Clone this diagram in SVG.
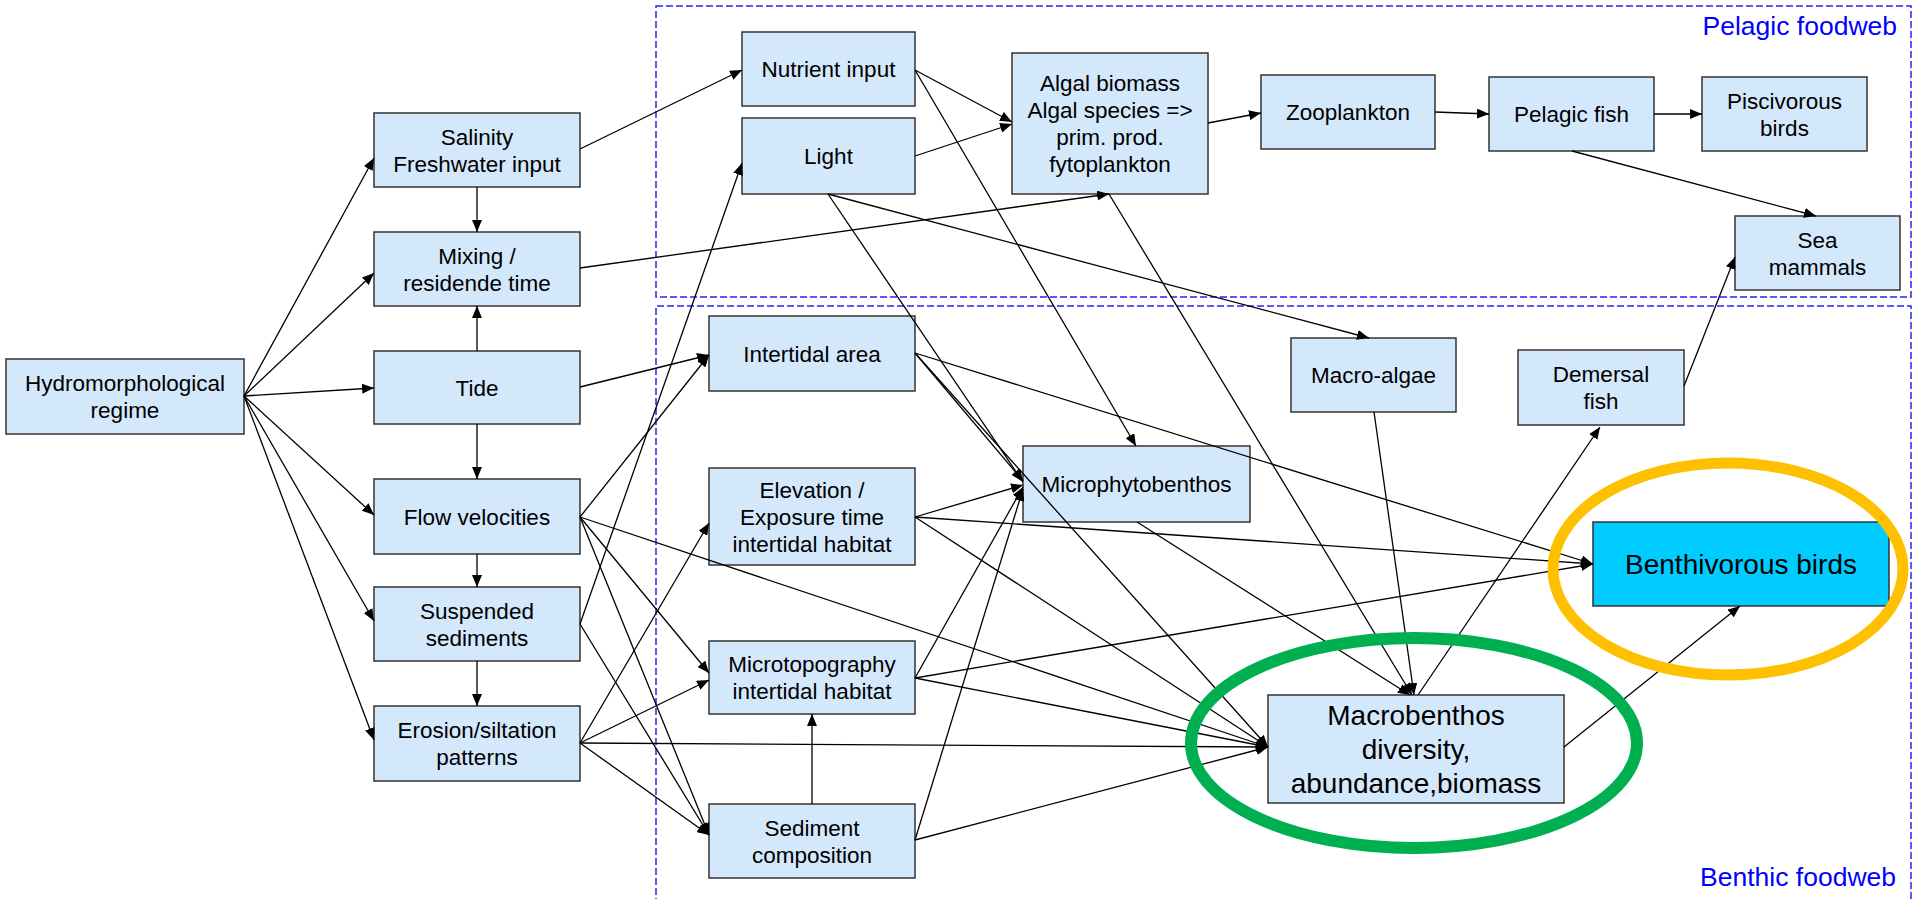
<svg xmlns="http://www.w3.org/2000/svg" width="1915" height="899" viewBox="0 0 1915 899">
<style>
.n{fill:#D4E8FC;stroke:#333;stroke-width:1.5}
.nb{fill:#00CCFF;stroke:#333;stroke-width:1.5}
.t{font-family:"Liberation Sans",Arial,sans-serif;font-size:22.5px;text-anchor:middle;fill:#000}
.tl{font-family:"Liberation Sans",Arial,sans-serif;font-size:28px;text-anchor:middle;fill:#000}
.lbl{font-family:"Liberation Sans",Arial,sans-serif;font-size:26.5px;text-anchor:end;fill:#0000FF}
.dash{fill:none;stroke:#2626F0;stroke-width:1.5;stroke-dasharray:7 3}
.c line{stroke:#000;stroke-width:1.3;marker-end:url(#ah)}
</style>
<defs>
<marker id="ah" markerUnits="userSpaceOnUse" markerWidth="12" markerHeight="10" refX="12" refY="5" orient="auto">
<path d="M0,0 L12,5 L0,10 z" fill="#000"/>
</marker>
</defs>
<rect width="1915" height="899" fill="#fff"/>
<g id="frames">
<rect class="dash" x="656" y="6" width="1255" height="291"/>
<path class="dash" d="M656,905 V306 H1911 V905"/>
<text class="lbl" x="1897" y="35">Pelagic foodweb</text>
<text class="lbl" x="1896" y="886">Benthic foodweb</text>
</g>
<g id="hydro"><rect class="n" x="6" y="359" width="238" height="75"/><text class="t" x="125" y="391">Hydromorphological<tspan x="125" dy="27">regime</tspan></text></g>
<g id="salinity"><rect class="n" x="374" y="113" width="206" height="74"/><text class="t" x="477" y="144.5">Salinity<tspan x="477" dy="27">Freshwater input</tspan></text></g>
<g id="mixing"><rect class="n" x="374" y="232" width="206" height="74"/><text class="t" x="477" y="263.5">Mixing /<tspan x="477" dy="27">residende time</tspan></text></g>
<g id="tide"><rect class="n" x="374" y="351" width="206" height="73"/><text class="t" x="477" y="395.5">Tide</text></g>
<g id="flow"><rect class="n" x="374" y="479" width="206" height="75"/><text class="t" x="477" y="524.5">Flow velocities</text></g>
<g id="suspended"><rect class="n" x="374" y="587" width="206" height="74"/><text class="t" x="477" y="618.5">Suspended<tspan x="477" dy="27">sediments</tspan></text></g>
<g id="erosion"><rect class="n" x="374" y="706" width="206" height="75"/><text class="t" x="477" y="738">Erosion/siltation<tspan x="477" dy="27">patterns</tspan></text></g>
<g id="nutrient"><rect class="n" x="742" y="32" width="173" height="74"/><text class="t" x="828.5" y="77">Nutrient input</text></g>
<g id="light"><rect class="n" x="742" y="118" width="173" height="76"/><text class="t" x="828.5" y="164">Light</text></g>
<g id="algal"><rect class="n" x="1012" y="53" width="196" height="141"/><text class="t" x="1110" y="91">Algal biomass<tspan x="1110" dy="27">Algal species =&gt;</tspan><tspan x="1110" dy="27">prim. prod.</tspan><tspan x="1110" dy="27">fytoplankton</tspan></text></g>
<g id="zooplankton"><rect class="n" x="1261" y="75" width="174" height="74"/><text class="t" x="1348" y="120">Zooplankton</text></g>
<g id="pelagicfish"><rect class="n" x="1489" y="77" width="165" height="74"/><text class="t" x="1571.5" y="122">Pelagic fish</text></g>
<g id="piscivorous"><rect class="n" x="1702" y="77" width="165" height="74"/><text class="t" x="1784.5" y="108.5">Piscivorous<tspan x="1784.5" dy="27">birds</tspan></text></g>
<g id="seamammals"><rect class="n" x="1735" y="216" width="165" height="74"/><text class="t" x="1817.5" y="247.5">Sea<tspan x="1817.5" dy="27">mammals</tspan></text></g>
<g id="intertidal"><rect class="n" x="709" y="316" width="206" height="75"/><text class="t" x="812" y="361.5">Intertidal area</text></g>
<g id="elevation"><rect class="n" x="709" y="468" width="206" height="97"/><text class="t" x="812" y="497.5">Elevation /<tspan x="812" dy="27">Exposure time</tspan><tspan x="812" dy="27">intertidal habitat</tspan></text></g>
<g id="microtopography"><rect class="n" x="709" y="641" width="206" height="73"/><text class="t" x="812" y="672">Microtopography<tspan x="812" dy="27">intertidal habitat</tspan></text></g>
<g id="sediment"><rect class="n" x="709" y="804" width="206" height="74"/><text class="t" x="812" y="835.5">Sediment<tspan x="812" dy="27">composition</tspan></text></g>
<g id="microphytobenthos"><rect class="n" x="1023" y="446" width="227" height="76"/><text class="t" x="1136.5" y="492">Microphytobenthos</text></g>
<g id="macroalgae"><rect class="n" x="1291" y="338" width="165" height="74"/><text class="t" x="1373.5" y="383">Macro-algae</text></g>
<g id="demersal"><rect class="n" x="1518" y="350" width="166" height="75"/><text class="t" x="1601" y="382">Demersal<tspan x="1601" dy="27">fish</tspan></text></g>
<g id="benthivorous"><rect class="nb" x="1593" y="522" width="296" height="84"/><text class="tl" x="1741" y="574">Benthivorous birds</text></g>
<g id="macrobenthos"><rect class="n" x="1268" y="695" width="296" height="108"/><text class="tl" x="1416" y="725">Macrobenthos<tspan x="1416" dy="34">diversity,</tspan><tspan x="1416" dy="34">abundance,biomass</tspan></text></g>
<g id="connectors" class="c">
<line x1="244" y1="396" x2="374" y2="158"/>
<line x1="244" y1="396" x2="374" y2="273"/>
<line x1="244" y1="396" x2="374" y2="388"/>
<line x1="244" y1="396" x2="374" y2="515"/>
<line x1="244" y1="396" x2="374" y2="621"/>
<line x1="244" y1="396" x2="374" y2="740"/>
<line x1="477" y1="187" x2="477" y2="232"/>
<line x1="477" y1="351" x2="477" y2="306"/>
<line x1="477" y1="424" x2="477" y2="479"/>
<line x1="477" y1="554" x2="477" y2="587"/>
<line x1="477" y1="661" x2="477" y2="706"/>
<line x1="580" y1="149" x2="742" y2="70"/>
<line x1="580" y1="268" x2="1109" y2="194"/>
<line x1="580" y1="387" x2="709" y2="355"/>
<line x1="580" y1="517" x2="709" y2="355"/>
<line x1="580" y1="624" x2="742" y2="163"/>
<line x1="580" y1="517" x2="709" y2="673"/>
<line x1="580" y1="517" x2="709" y2="835"/>
<line x1="580" y1="517" x2="1268" y2="747"/>
<line x1="580" y1="624" x2="709" y2="835"/>
<line x1="580" y1="743" x2="709" y2="523"/>
<line x1="580" y1="743" x2="709" y2="680"/>
<line x1="580" y1="743" x2="1268" y2="747"/>
<line x1="580" y1="743" x2="709" y2="835"/>
<line x1="812" y1="804" x2="812" y2="714"/>
<line x1="915" y1="70" x2="1012" y2="122"/>
<line x1="915" y1="156" x2="1012" y2="124"/>
<line x1="915" y1="70" x2="1136" y2="446"/>
<line x1="828" y1="194" x2="1023" y2="482"/>
<line x1="828" y1="194" x2="1369" y2="338"/>
<line x1="1109" y1="194" x2="1412" y2="695"/>
<line x1="1208" y1="123" x2="1261" y2="113"/>
<line x1="1435" y1="112" x2="1489" y2="114"/>
<line x1="1654" y1="114" x2="1702" y2="114"/>
<line x1="1572" y1="151" x2="1816" y2="216"/>
<line x1="1684" y1="386" x2="1735" y2="257"/>
<line x1="915" y1="353" x2="1023" y2="481"/>
<line x1="915" y1="353" x2="1268" y2="747"/>
<line x1="915" y1="353" x2="1593" y2="564"/>
<line x1="915" y1="517" x2="1023" y2="485"/>
<line x1="915" y1="517" x2="1593" y2="564"/>
<line x1="915" y1="517" x2="1268" y2="747"/>
<line x1="915" y1="678" x2="1023" y2="487"/>
<line x1="915" y1="678" x2="1593" y2="564"/>
<line x1="915" y1="678" x2="1268" y2="747"/>
<line x1="915" y1="840" x2="1023" y2="489"/>
<line x1="915" y1="840" x2="1268" y2="747"/>
<line x1="1137" y1="522" x2="1410" y2="695"/>
<line x1="1374" y1="412" x2="1414" y2="695"/>
<line x1="1418" y1="695" x2="1600" y2="427"/>
<line x1="1564" y1="747" x2="1740" y2="606"/>
</g>
<g id="highlights">
<ellipse cx="1414" cy="743" rx="223" ry="105" fill="none" stroke="#00B050" stroke-width="12"/>
<ellipse cx="1728" cy="569" rx="175" ry="106" fill="none" stroke="#FFC000" stroke-width="11"/>
</g>
</svg>
